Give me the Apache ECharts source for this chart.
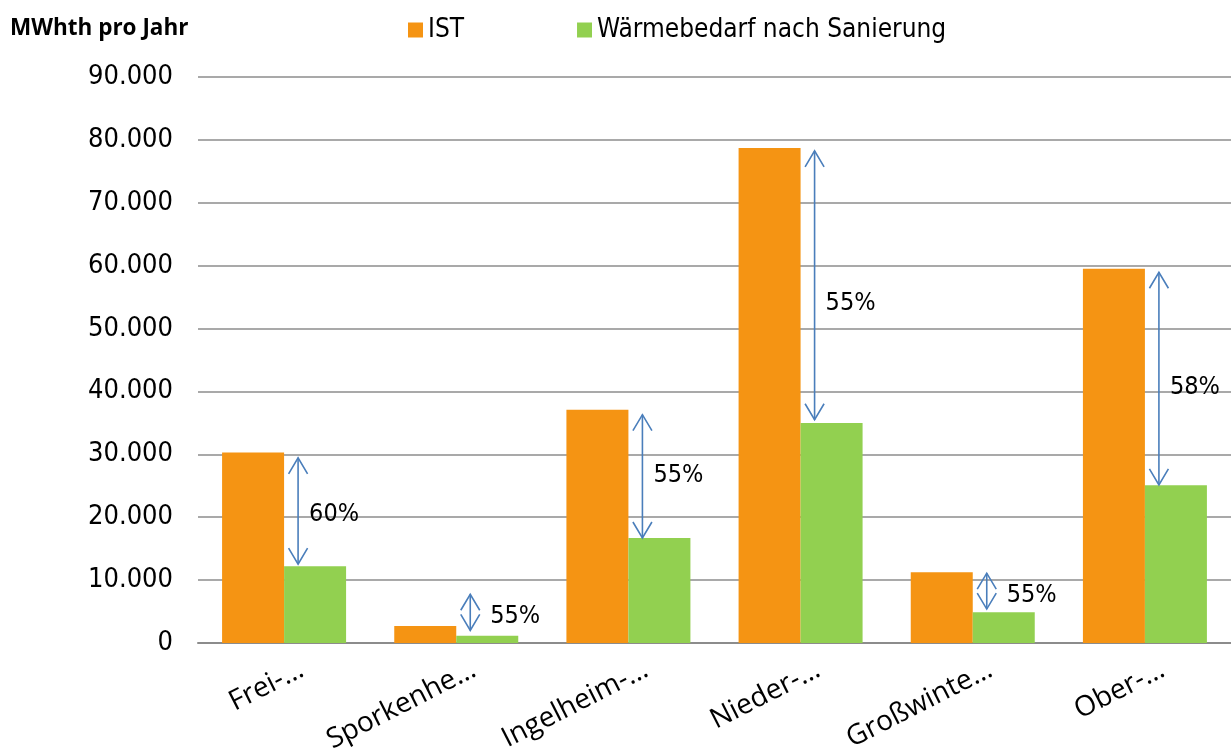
<!DOCTYPE html>
<html>
<head>
<meta charset="utf-8">
<title>Wärmebedarf</title>
<script src="https://cdn.jsdelivr.net/npm/echarts@6/dist/echarts.min.js"></script>
<style>
  html, body { margin: 0; padding: 0; background: #fff; }
  #chart { width: 1231px; height: 756px; }
</style>
</head>
<body>
<div id="chart"></div>
<script>
// categories (truncated like in the original)
const categories = ['Frei-…', 'Sporkenhe…', 'Ingelheim-…', 'Nieder-…', 'Großwinte…', 'Ober-…'];
// MWhth pro Jahr
const istValues = [30300, 2700, 37100, 78700, 11250, 59500];
const saniertValues = [12200, 1150, 16700, 35000, 4900, 25100];
// reduction arrows: from / to value and where the label sits
const arrowFrom = [29450, 7750, 36300, 78250, 11100, 58950];
const arrowTo = [12550, 2000, 16700, 35500, 5400, 25150];
const labelAt = [20500, 4250, 26600, 54000, 7600, 40600];
const pctLabels = ['60%', '55%', '55%', '55%', '55%', '58%'];
const yTicks = [0, 10000, 20000, 30000, 40000, 50000, 60000, 70000, 80000, 90000];

const numFont = 'DejaVu Sans Condensed';
const arrowColor = '#4A7EBB';

function fmt(v) {
    return String(v).replace(/\B(?=(\d{3})+(?!\d))/g, '.');
}

// draws a double headed arrow between two values of one category
function renderArrow(params, api) {
    const idx = api.value(0);
    const p1 = api.coord([idx, api.value(1)]);
    const p2 = api.coord([idx, api.value(2)]);
    const pl = api.coord([idx, api.value(3)]);
    const x = p1[0] + 14;
    const len = p2[1] - p1[1];
    const head = Math.min(16, len / 2);
    const hw = 9.5;
    const style = { stroke: arrowColor, lineWidth: 1.6, fill: null };
    const gap = len < 60 ? 20 : 11;
    return {
        type: 'group',
        children: [
            { type: 'line', shape: { x1: x, y1: p1[1], x2: x, y2: p2[1] }, style: style },
            { type: 'polyline', shape: { points: [[x - hw, p1[1] + head], [x, p1[1]], [x + hw, p1[1] + head]] }, style: style },
            { type: 'polyline', shape: { points: [[x - hw, p2[1] - head], [x, p2[1]], [x + hw, p2[1] - head]] }, style: style },
            {
                type: 'text',
                x: x + gap,
                y: pl[1],
                style: {
                    text: pctLabels[params.dataIndex],
                    font: '25px "' + numFont + '"',
                    fill: '#000',
                    verticalAlign: 'middle',
                    align: 'left'
                }
            }
        ]
    };
}

const arrowData = categories.map((c, i) => [i, arrowFrom[i], arrowTo[i], labelAt[i]]);

const chart = echarts.init(document.getElementById('chart'));
chart.setOption({
    animation: false,
    backgroundColor: '#fff',
    title: {
        text: 'MWhth pro Jahr',
        left: 5,
        top: 12,
        textStyle: { fontFamily: 'Open Sans', fontWeight: 'bold', fontSize: 22.5, color: '#000' }
    },
    legend: {
        top: 12,
        left: 403,
        itemWidth: 15,
        itemHeight: 15,
        itemGap: 113,
        icon: 'rect',
        data: ['IST', 'Wärmebedarf nach Sanierung'],
        textStyle: { fontFamily: numFont, fontSize: 26, color: '#000' }
    },
    grid: { left: 198, right: 0, top: 77, bottom: 113, containLabel: false },
    xAxis: {
        type: 'category',
        data: categories,
        axisLine: { lineStyle: { color: '#8c8c8c', width: 2 } },
        axisTick: { show: false },
        axisLabel: {
            interval: 0,
            rotate: 27,
            margin: 34,
            padding: [0, -20, 0, 0],
            fontFamily: 'Open Sans',
            fontSize: 28,
            color: '#000'
        }
    },
    yAxis: {
        type: 'value',
        min: yTicks[0],
        max: yTicks[yTicks.length - 1],
        interval: yTicks[1] - yTicks[0],
        axisLine: { show: false },
        axisTick: { show: false },
        splitLine: { lineStyle: { color: '#8c8c8c', width: 1.5 } },
        axisLabel: {
            margin: 25,
            fontFamily: numFont,
            fontSize: 27,
            color: '#000',
            formatter: fmt
        }
    },
    series: [
        {
            name: 'IST',
            type: 'bar',
            data: istValues,
            barWidth: 62,
            barGap: '0%',
            itemStyle: { color: '#F59413' }
        },
        {
            name: 'Wärmebedarf nach Sanierung',
            type: 'bar',
            data: saniertValues,
            barWidth: 62,
            itemStyle: { color: '#92D050' }
        },
        {
            name: 'arrows',
            type: 'custom',
            data: arrowData,
            encode: { x: 0, y: [1, 2] },
            renderItem: renderArrow,
            clip: false,
            z: 5,
            silent: true
        }
    ]
});
</script>
</body>
</html>
